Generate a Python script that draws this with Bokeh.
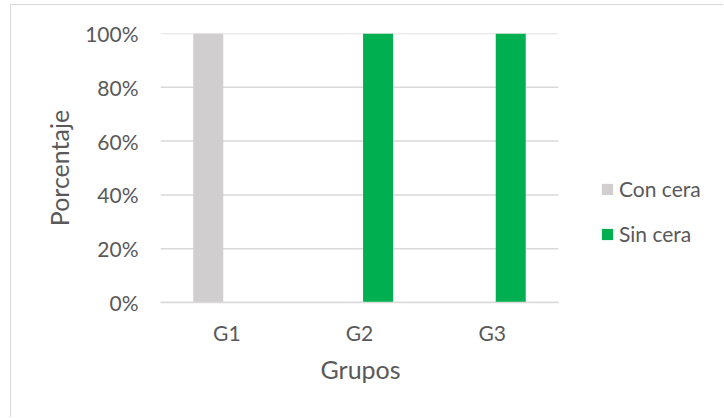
from bokeh.plotting import figure
from bokeh.models import (Range1d, NumeralTickFormatter, FixedTicker,
                          Legend, LegendItem, ColumnDataSource, Title)
from bokeh.embed import file_html
from bokeh.resources import INLINE

# Data
grupos = ["G1", "G2", "G3"]
con_cera = [1.0, 0.0, 0.0]   # fraction of samples
sin_cera = [0.0, 1.0, 1.0]
y_ticks = [0.0, 0.2, 0.4, 0.6, 0.8, 1.0]

FONT = "Lato"
TEXT = "#595959"
GRID = "#d9d9d9"
GRAY = "#d0cece"
GREEN = "#00b050"

# group positions on a numeric axis, one unit per group
pos = list(range(len(grupos)))
BAR_W = 0.226
SHIFT = 0.14
src = ColumnDataSource(dict(
    x_con=[i - SHIFT for i in pos], x_sin=[i + SHIFT for i in pos],
    con=con_cera, sin=sin_cera))

# layout (pixels): the chart area starts 10px from the left, 4px from the top,
# with a thin border on those sides; the plot area covers 398px for the groups
# and extends to the right edge so that the legend can sit inside it.
OFF_X, OFF_Y = 11, 5
W, H = 724 - OFF_X, 418 - OFF_Y
LEFT, TOP, BOTTOM = 160 - OFF_X, 33 - OFF_Y, 116
GROUPS_PX = 398
frame_px = W - LEFT
x_start = -0.5
x_stop = x_start + len(grupos)
x_end = x_start + len(grupos) * frame_px / GROUPS_PX

p = figure(width=W, height=H, x_range=Range1d(x_start, x_end),
           y_range=Range1d(0, 1), output_backend="svg", toolbar_location=None,
           min_border_left=LEFT, min_border_right=0,
           min_border_top=TOP, min_border_bottom=BOTTOM)
p.styles = {"margin-left": "10px", "margin-top": "4px",
            "border-left": f"1px solid {GRID}", "border-top": f"1px solid {GRID}"}
p.outline_line_color = None
p.background_fill_color = "white"
p.border_fill_color = "white"

# horizontal gridlines across the group area only
p.xgrid.grid_line_color = None
p.ygrid.grid_line_color = None
p.segment(x0=[x_start] * len(y_ticks), x1=[x_stop] * len(y_ticks),
          y0=y_ticks, y1=y_ticks, line_color=GRID, line_width=1.5)

r_con = p.vbar(x="x_con", top="con", width=BAR_W, source=src,
               fill_color=GRAY, line_color=None)
r_sin = p.vbar(x="x_sin", top="sin", width=BAR_W, source=src,
               fill_color=GREEN, line_color=None)

# Axes
p.yaxis.ticker = FixedTicker(ticks=y_ticks)
p.yaxis.formatter = NumeralTickFormatter(format="0%")
p.yaxis.axis_line_color = None
p.yaxis.major_tick_line_color = None
p.yaxis.minor_tick_line_color = None
p.yaxis.major_label_standoff = 16
p.yaxis.axis_label = "Porcentaje"
p.yaxis.axis_label_standoff = 8
p.yaxis.axis_label_text_font = FONT
p.yaxis.axis_label_text_font_size = "25px"
p.yaxis.axis_label_text_font_style = "normal"
p.yaxis.axis_label_text_color = TEXT

p.xaxis.ticker = FixedTicker(ticks=pos)
p.xaxis.major_label_overrides = {i: g for i, g in zip(pos, grupos)}
p.xaxis.bounds = (x_start, x_stop)
p.xaxis.axis_line_color = GRID
p.xaxis.axis_line_width = 1.5
p.xaxis.major_tick_line_color = None
p.xaxis.minor_tick_line_color = None
p.xaxis.major_label_standoff = 11

for ax in (p.xaxis[0], p.yaxis[0]):
    ax.major_label_text_font = FONT
    ax.major_label_text_font_size = "21px"
    ax.major_label_text_color = TEXT

# x axis title, centred under the groups rather than the whole plot area
# (left-aligned with an offset of half the group span less half the text width)
X_TITLE_HALF_W = 39
x_title = Title(text="Grupos", align="left",
                offset=GROUPS_PX / 2 - X_TITLE_HALF_W,
                text_font=FONT, text_font_size="25px", text_font_style="normal",
                text_color=TEXT, standoff=8)
p.add_layout(x_title, "below")

# Legend to the right of the groups
legend = Legend(items=[LegendItem(label="Con cera", renderers=[r_con]),
                       LegendItem(label="Sin cera", renderers=[r_sin])],
                location=(440, 56), orientation="vertical",
                label_text_font=FONT, label_text_font_size="21px",
                label_text_color=TEXT, glyph_width=14, glyph_height=14,
                label_height=24, spacing=20, label_standoff=5, padding=0,
                margin=0, border_line_color=None, background_fill_alpha=0)
p.add_layout(legend, "center")

open("out.html", "w").write(file_html(p, INLINE))
